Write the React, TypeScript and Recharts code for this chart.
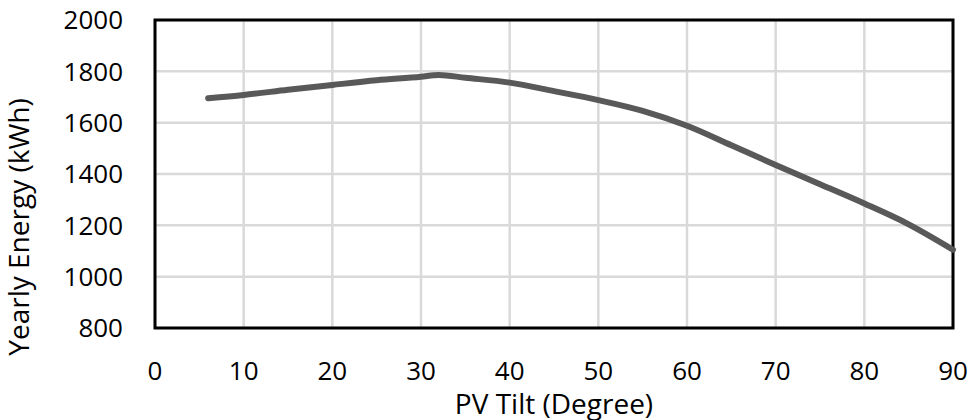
import React from 'react';
import { LineChart, Line, XAxis, YAxis, CartesianGrid, ReferenceArea, Label } from 'recharts';

const tilt = [6, 10, 15, 20, 25, 30, 32, 35, 40, 45, 50, 55, 60, 65, 70, 75, 80, 85, 90];
const energy = [1695, 1708, 1728, 1747, 1765, 1779, 1786, 1775, 1756, 1723, 1688, 1646, 1588, 1512, 1435, 1360, 1285, 1204, 1105];
const xTicks = [0, 10, 20, 30, 40, 50, 60, 70, 80, 90];
const yTicks = [800, 1000, 1200, 1400, 1600, 1800, 2000];

const data = tilt.map((t, i) => ({ tilt: t, energy: energy[i] }));

const FONT = '"Open Sans", Lato, sans-serif';

const YTitle = (props: any) => {
  const vb = props.viewBox || {};
  const cx = 18;
  const cy = vb.y + vb.height / 2 + 53;
  return (
    <text
      x={cx}
      y={cy}
      transform={`rotate(-90, ${cx}, ${cy})`}
      textAnchor="middle"
      dominantBaseline="central"
      fontFamily={FONT}
      fontSize={28}
      fill="#000"
    >
      Yearly Energy (kWh)
    </text>
  );
};

export default function App() {
  return (
    <div style={{ position: 'absolute', left: 0, top: 0, width: 969, height: 420, background: '#fff' }}>
      <LineChart width={969} height={420} data={data} margin={{ top: 20, right: 16, bottom: 0, left: 0 }}>
        <CartesianGrid stroke="#d9d9d9" strokeWidth={2.5} />
        <XAxis
          dataKey="tilt"
          type="number"
          domain={[0, 90]}
          ticks={xTicks}
          height={92}
          axisLine={false}
          tickLine={false}
          tickSize={0}
          tickMargin={34}
          tick={{ fill: '#000', fontSize: 26, fontFamily: FONT }}
          interval={0}
        >
          <Label
            value="PV Tilt (Degree)"
            position="insideBottom"
            offset={6}
            style={{ fill: '#000', fontSize: 28, fontFamily: FONT }}
          />
        </XAxis>
        <YAxis
          type="number"
          domain={[800, 2000]}
          ticks={yTicks}
          width={155}
          axisLine={false}
          tickLine={false}
          tickSize={0}
          tickMargin={32}
          tick={{ fill: '#000', fontSize: 26, fontFamily: FONT }}
          interval={0}
        >
          <Label content={YTitle} />
        </YAxis>
        <Line
          type="monotone"
          dataKey="energy"
          stroke="#595959"
          strokeWidth={6}
          strokeLinecap="round"
          dot={false}
          isAnimationActive={false}
        />
        <ReferenceArea x1={0} x2={90} y1={800} y2={2000} fill="none" stroke="#000" strokeWidth={3} ifOverflow="visible" />
      </LineChart>
    </div>
  );
}
